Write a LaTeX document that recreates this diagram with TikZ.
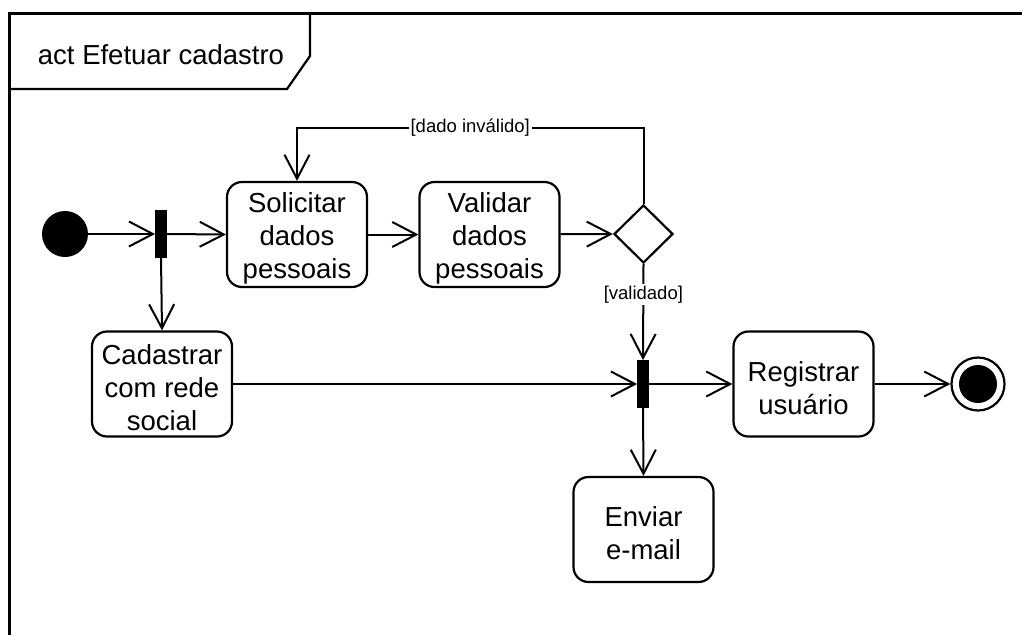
\documentclass[tikz,border=0pt]{standalone}
\usepackage{fontspec}
\setmainfont{Liberation Sans}
\usetikzlibrary{arrows.meta,shapes.geometric}

\tikzset{
  action/.style={draw, line width=2.2pt, rounded corners=15pt, minimum width=140pt,
    minimum height=105pt, inner sep=0pt,
    label={[align=center, yshift=-4pt, font=\fontsize{27.5}{33}\selectfont]center:#1}},
  bar/.style={fill=black, draw=black, line width=0.8pt, minimum width=11pt, minimum height=47pt, inner sep=0pt},
  flow/.style={line width=2pt, -{Straight Barb[length=24pt,width=25pt,line width=2pt]}},
  guard/.style={fill=white, inner sep=2pt, font=\fontsize{18.5}{22}\selectfont},
}

\begin{document}
\begin{tikzpicture}[x=1pt,y=-1pt]
  \useasboundingbox (0,0) rectangle (1022,635);

  % diagram frame and its name tab
  \draw[line width=3pt] (9,635) -- (9,13) -- (1022,13);
  \draw[line width=2.2pt] (9,89) -- (287,89) -- (310,56) -- (310,13);
  \node[font=\fontsize{27.5}{33}\selectfont] (title) at (161,55) {act Efetuar cadastro};

  % nodes
  \node[circle, fill=black, minimum size=46pt, inner sep=0pt] (start) at (65,234) {};
  \node[bar] (fork1) at (161,234) {};
  \node[action={Solicitar\\dados\\pessoais}] (solicitar) at (297,234.5) {};
  \node[action={Validar\\dados\\pessoais}] (validar) at (489.5,234.5) {};
  \node[diamond, draw, line width=2.2pt, minimum width=59pt, minimum height=58pt, inner sep=0pt] (dec) at (643.5,234) {};
  \node[action={Cadastrar\\com rede\\social}] (cadastrar) at (162,384) {};
  \node[bar] (fork2) at (643,384) {};
  \node[action={Registrar\\usuário}] (registrar) at (803.5,384) {};
  \node[action={Enviar\\e-mail}] (enviar) at (643.5,529.5) {};
  \node[circle, draw, line width=2.2pt, minimum size=53pt, inner sep=0pt] (final) at (978,384) {};
  \node[circle, fill=black, minimum size=38pt, inner sep=0pt] (finaldot) at (978,384) {};
  \coordinate (looptop) at (297,128);

  % control flows
  \draw[flow] (start) -- (fork1.west);
  \draw[flow] (fork1.east) -- (solicitar.west);
  \draw[flow] (fork1.south) -- (cadastrar.north);
  \draw[flow] (solicitar) -- (validar);
  \draw[flow] (validar) -- (dec.west);
  \draw[flow] (dec.north) -- (dec.north |- looptop)
     -- node[guard] {[dado inválido]} (looptop) -- (solicitar.north);
  \draw[flow] (dec.south) -- node[guard, pos=0.32] {[validado]} (fork2.north);
  \draw[flow] (cadastrar.east) -- (fork2.west);
  \draw[flow] (fork2.east) -- (registrar.west);
  \draw[flow] (registrar) -- (final);
  \draw[flow] (fork2.south) -- (enviar.north);
\end{tikzpicture}
\end{document}
